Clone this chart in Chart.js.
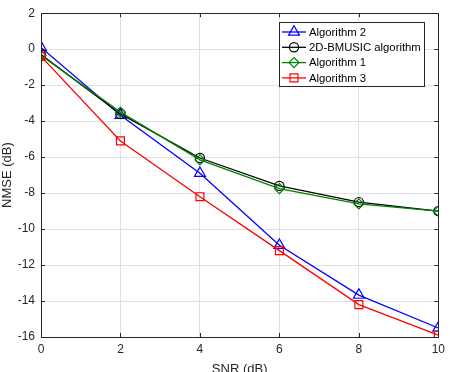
<!DOCTYPE html>
<html>
<head>
<meta charset="utf-8">
<script src="https://cdn.jsdelivr.net/npm/chart.js@4/dist/chart.umd.min.js"></script>
<style>
html,body{margin:0;padding:0;background:#fff;}
#wrap{width:450px;height:372px;position:relative;}
</style>
</head>
<body>
<div id="wrap"><canvas id="c" width="450" height="372"></canvas></div>
<script>
const snr = [0, 2, 4, 6, 8, 10];
const algorithm2 = [0.1, -3.67, -6.9, -10.9, -13.67, -15.5];
const bmusic = [-0.3, -3.6, -6.05, -7.6, -8.5, -9.0];
const algorithm1 = [-0.35, -3.5, -6.15, -7.75, -8.6, -9.0];
const algorithm3 = [-0.4, -5.1, -8.2, -11.2, -14.2, -15.9];
const xTicks = [0, 2, 4, 6, 8, 10];
const yTicks = [-16, -14, -12, -10, -8, -6, -4, -2, 0, 2];
const seriesNames = ['Algorithm 2', '2D-BMUSIC algorithm', 'Algorithm 1', 'Algorithm 3'];

const FONT = 'Liberation Sans, Arial, Helvetica, sans-serif';
const RADII = { triangle: 6.3, circle: 4.6, rectRot: 5, rect: 5.6 };

function pts(ys){ return snr.map((x,i)=>({x:x, y:ys[i]})); }

function ds(label, ys, color, style, order){
  return {
    label: label, data: pts(ys), borderColor: color, backgroundColor: 'rgba(0,0,0,0)',
    pointStyle: style, pointRadius: RADII[style], pointBorderWidth: 1.2, borderWidth: 1.3,
    pointBorderColor: color, pointBackgroundColor: 'rgba(0,0,0,0)', tension: 0, order: order
  };
}

const boxPlugin = {
  id: 'boxPlugin',
  afterDatasetsDraw(chart){
    const {ctx, chartArea: a, scales} = chart;
    ctx.save();
    ctx.strokeStyle = '#262626';
    ctx.lineWidth = 1;
    ctx.beginPath();
    xTicks.forEach(v=>{
      const px = Math.round(scales.x.getPixelForValue(v))+0.5;
      ctx.moveTo(px, a.bottom); ctx.lineTo(px, a.bottom-4);
      ctx.moveTo(px, a.top); ctx.lineTo(px, a.top+4);
    });
    yTicks.forEach(v=>{
      const py = Math.round(scales.y.getPixelForValue(v))+0.5;
      ctx.moveTo(a.left, py); ctx.lineTo(a.left+4, py);
      ctx.moveTo(a.right, py); ctx.lineTo(a.right-4, py);
    });
    ctx.stroke();
    ctx.strokeRect(Math.round(a.left)+0.5, Math.round(a.top)+0.5, Math.round(a.right-a.left), Math.round(a.bottom-a.top));
    // legend
    const lx = 279, ly = 22, lw = 145, lh = 64;
    ctx.fillStyle = '#fff';
    ctx.fillRect(lx, ly, lw, lh);
    ctx.strokeStyle = '#262626';
    ctx.strokeRect(lx+0.5, ly+0.5, lw, lh);
    ctx.textBaseline = 'middle';
    ctx.textAlign = 'left';
    [0,1,2,3].forEach((di, k)=>{
      const d = chart.data.datasets[di];
      const y = 32 + k*15.3;
      ctx.strokeStyle = d.borderColor;
      ctx.lineWidth = 1.3;
      ctx.beginPath(); ctx.moveTo(282, y); ctx.lineTo(306, y); ctx.stroke();
      ctx.fillStyle = 'rgba(0,0,0,0)';
      ctx.lineWidth = 1.2;
      Chart.helpers.drawPoint(ctx, {pointStyle: d.pointStyle, radius: d.pointRadius, borderWidth: 1.2, rotation: 0}, 294, y);
      ctx.fillStyle = '#000';
      ctx.font = '11.3px ' + FONT;
      ctx.fillText(seriesNames[di], 309, y+0.5);
    });
    ctx.restore();
  }
};

new Chart(document.getElementById('c'), {
  type: 'line',
  data: {
    datasets: [
      ds(seriesNames[0], algorithm2, '#0000ff', 'triangle', 4),
      ds(seriesNames[1], bmusic, '#000000', 'circle', 3),
      ds(seriesNames[2], algorithm1, '#008000', 'rectRot', 2),
      ds(seriesNames[3], algorithm3, '#ff0000', 'rect', 1)
    ]
  },
  options: {
    responsive: false, animation: false, devicePixelRatio: 1,
    layout: { padding: { top: 13, right: 10, left: 0, bottom: 0 } },
    plugins: { legend: { display: false }, tooltip: { enabled: false } },
    scales: {
      x: {
        type: 'linear', min: 0, max: 10,
        afterFit(s){ s.height = 35; },
        afterBuildTicks(s){ s.ticks = xTicks.map(v=>({value:v})); },
        grid: { color: '#e0e0e0', drawTicks: false, lineWidth: 1 },
        border: { display: false },
        ticks: { color: '#262626', padding: 5, font: { family: FONT, size: 12 }, maxRotation: 0 },
        title: { display: true, text: 'SNR (dB)', color: '#262626', font: { family: FONT, size: 13 }, padding: { top: 0, bottom: -5 } }
      },
      y: {
        type: 'linear', min: -16, max: 2,
        afterFit(s){ s.width = 41; },
        afterBuildTicks(s){ s.ticks = yTicks.map(v=>({value:v})); },
        grid: { color: '#e0e0e0', drawTicks: false, lineWidth: 1 },
        border: { display: false },
        ticks: { color: '#262626', padding: 6, font: { family: FONT, size: 12 } },
        title: { display: true, text: 'NMSE (dB)', color: '#262626', font: { family: FONT, size: 13 }, padding: { top: 0, bottom: 0 } }
      }
    }
  },
  plugins: [boxPlugin]
});
</script>
</body>
</html>
